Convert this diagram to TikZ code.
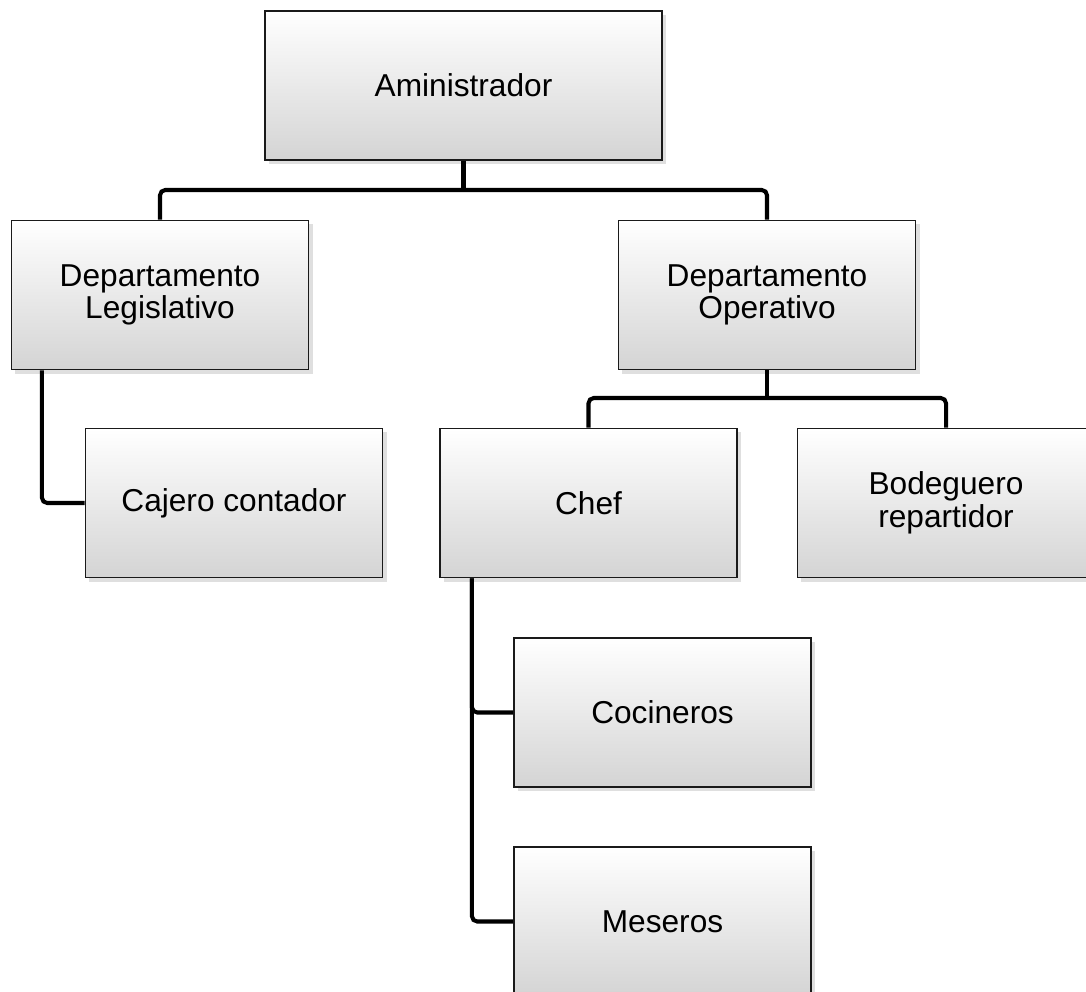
\documentclass[tikz,border=0pt]{standalone}
\usepackage{fontspec}
\setmainfont{Liberation Sans}
\usepackage{tikz}
\usetikzlibrary{shadows, positioning, calc}
\definecolor{boxdraw}{HTML}{1A1A1A}
\definecolor{boxbot}{HTML}{D4D4D4}
\tikzset{
  orgbox/.style={rectangle, draw=boxdraw, line width=0.45pt, align=center,
    top color=white, middle color=white!92!boxbot, bottom color=boxbot,
    font=\fontsize{9}{9.3}\selectfont, minimum width=2.97cm, minimum height=1.49cm,
    inner sep=2pt, drop shadow={opacity=0.25, shadow xshift=0.04cm, shadow yshift=-0.04cm}},
  topbox/.style={orgbox, minimum width=3.97cm},
  conn/.style={line width=1.15pt, draw=black, rounded corners=1.5pt},
}

\begin{document}
\begin{tikzpicture}[x=0.01cm, y=-0.01cm]
  \clip (0,0) rectangle (1086,992);
  \fill[white] (0,0) rectangle (1086,992);
  % levels of the chart
  \node[topbox] (admin) at (463.5,85.5) {Aministrador};
  \node[orgbox] (legis) at (160,295) {Departamento\\Legislativo};
  \node[orgbox] (oper) at (767,295) {Departamento\\Operativo};
  \node[orgbox] (cajero) at (234,503) {Cajero contador};
  \node[orgbox] (chef) at (588.5,503) {Chef};
  \node[orgbox] (bodeg) at (946,503) {Bodeguero\\repartidor};
  \node[orgbox] (cocin) at (662.5,712.5) {Cocineros};
  \node[orgbox] (meser) at (662.5,921.5) {Meseros};
  % connectors
  \coordinate (bus1) at (463.5,190);
  \coordinate (bus2) at (767,398);
  \draw[conn] (admin.south) -- (bus1);
  \draw[conn] (legis.north) |- (bus1) -| (oper.north);
  \draw[conn] ([xshift=-1.18cm]legis.south) |- (cajero.west);
  \draw[conn] (oper.south) -- (bus2);
  \draw[conn] (chef.north) |- (bus2) -| (bodeg.north);
  \draw[conn] ([xshift=-1.165cm]chef.south) |- (cocin.west);
  \draw[conn] ([xshift=-1.165cm]chef.south) |- (meser.west);
\end{tikzpicture}
\end{document}
